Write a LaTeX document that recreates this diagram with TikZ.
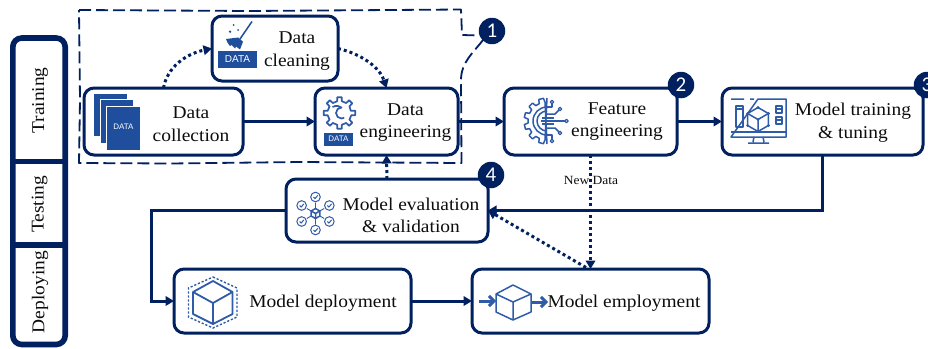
\documentclass[tikz,border=0pt]{standalone}
\usepackage{fontspec}
\setmainfont[FakeStretch=1.08]{Liberation Serif}
\newfontfamily\badgefont{Carlito}
\newfontfamily\datafont{Liberation Sans}
\usetikzlibrary{arrows.meta,calc}
\definecolor{navy}{HTML}{002060}
\definecolor{icob}{HTML}{2F5BA8}
\definecolor{datab}{HTML}{1F4E9C}
\definecolor{ink}{HTML}{0D0D0D}
\tikzset{
  box/.style={draw=navy,line width=3pt,rounded corners=10pt,fill=white,inner sep=0pt,outer sep=0pt,minimum width=#1},
  lbl/.style={align=center,text=ink,font=\fontsize{18}{22.5}\selectfont,inner sep=0pt},
  side/.style={rotate=90,text=ink,font=\fontsize{18}{22}\selectfont,inner sep=0pt},
  badge/.style={circle,fill=navy,text=white,minimum size=26.5pt,inner sep=0pt,font=\badgefont\fontsize{21}{21}\selectfont},
  flow/.style={draw=navy,line width=3pt,-{Triangle[length=8.5pt,width=9.5pt]}},
  dotflow/.style={draw=navy,line width=3pt,dash pattern=on 3pt off 3pt,-{Triangle[length=8.5pt,width=9.5pt]}},
  regionline/.style={navy,line width=1.8pt,dash pattern=on 12pt off 5pt,line join=round},
  ico/.style={draw=icob,line width=1.5pt,line join=round,fill=none},
  datatag/.style={fill=datab,text=white,inner sep=0pt,font=\datafont\fontsize{#1}{#1}\selectfont},
}
\newcommand{\hexcube}[3]{%
  \begin{scope}[shift={(#1,#2)}]
    \draw[ico] (90:#3)--(30:#3)--(-30:#3)--(-90:#3)--(-150:#3)--(150:#3)--cycle;
    \draw[ico] (0,0)--(-30:#3) (0,0)--(-150:#3) (0,0)--(90:#3);
  \end{scope}}
\begin{document}
\begin{tikzpicture}[x=1pt,y=-1pt]
\useasboundingbox (0,0) rectangle (928,348);
\clip (0,0) rectangle (928,348);
% dashed region
\draw[regionline] (79,10) -- (250,11) -- (461,9.5) -- (462,35) -- (479,35.5);
\draw[regionline] (483,40) .. controls (474,52) and (461,62) .. (461,80) -- (461.5,163) -- (300,162) -- (170,163.5) -- (79,163) -- (80,100) -- (79,10);
% phase panel
\draw[navy,line width=5.6pt,rounded corners=9pt] (12.8,38) rectangle (65.2,344.5);
\draw[navy,line width=5.6pt] (12.8,161.5) -- (65.2,161.5) (12.8,245) -- (65.2,245);
\node[side] (ptrain) at (40,100.5) {Training};
\node[side] (ptest) at (39.5,204.5) {Testing};
\node[side] (pdeploy) at (40,292) {Deploying};
% boxes
\node[box=159pt,minimum height=67pt] (coll) at (163.5,121.5) {};
\node[box=126pt,minimum height=65pt] (clean) at (275,48.5) {};
\node[box=143pt,minimum height=67pt] (eng) at (386.5,121.5) {};
\node[box=173pt,minimum height=67pt] (feat) at (590.5,121.5) {};
\node[box=201pt,minimum height=67pt] (train) at (822.5,121.5) {};
\node[box=202pt,minimum height=63pt] (eval) at (387,210.5) {};
\node[box=237pt,minimum height=64pt] (depl) at (292.5,301) {};
\node[box=237pt,minimum height=64pt] (empl) at (590.5,301) {};
% connectors
\draw[flow] (coll) -- (eng);
\draw[flow] (eng) -- (feat);
\draw[flow] (feat) -- (train);
\draw[flow] (depl) -- (empl);
\draw[flow] (train.south) |- (eval.east);
\coordinate (bend) at (151,210.5);
\draw[flow] (eval.west) -- (bend) |- (depl.west);
\draw[dotflow] (coll.north) .. controls (167,68) and (185,54) .. (clean.west);
\draw[dotflow] (clean.east) .. controls (362,54) and (380,68) .. (eng.north);
\draw[dotflow] (eval.north) -- (eng.south);
\draw[dotflow] (feat.south) -- (empl.north);
\coordinate (emplout) at (586,267.5);
\draw[dotflow] (emplout) -- (eval.east);
\node[text=ink,inner sep=0pt,font=\fontsize{12.5}{14}\selectfont] (newdata) at (591,180) {New Data};
% texts
\node[lbl] (tcoll) at (191,124) {Data\\collection};
\node[lbl] (tclean) at (297,51) {Data\\cleaning};
\node[lbl] (teng) at (405.5,122.5) {Data\\engineering};
\node[lbl] (tfeat) at (617,121.5) {Feature\\engineering};
\node[lbl] (ttrain) at (853,122.5) {Model training\\\& tuning};
\node[lbl] (teval) at (411,215.5) {Model evaluation\\\& validation};
\node[lbl] (tdepl) at (323,303.5) {Model deployment};
\node[lbl] (templ) at (624,303.5) {Model employment};
% badges
\node[badge] (b1) at (492,31) {1};
\node[badge] (b2) at (681,85) {2};
\node[badge] (b3) at (927,85) {3};
\node[badge] (b4) at (491,175) {4};
% icon: documents
\fill[datab,draw=white,line width=.8pt] (93,93) rectangle (127,136);
\fill[datab,draw=white,line width=.8pt] (100,99) rectangle (133.5,143);
\fill[datab,draw=white,line width=.8pt] (106.5,106.5) rectangle (140.5,150.5);
\node[text=white,inner sep=0pt,font=\datafont\fontsize{8}{8}\selectfont] (dcoll) at (123.5,127) {DATA};
% icon: cleaning
\node[datatag=10,minimum width=39pt,minimum height=17pt] (dclean) at (237.5,59.5) {DATA};
\draw[datab,line width=1.5pt] (252,21.5) -- (240,39);
\fill[datab] (226,39) -- (238.3,37.5) -- (243,41.7) -- (240,49.5) -- (236,46.5) -- (235,48.5) -- (231.5,45) -- (230,46) .. controls (228,44) and (227,42) .. cycle;
\fill[datab] (233.5,25) circle (1pt) (230,31.7) circle (1.3pt) (238,30) circle (1pt);
% icon: gear
\begin{scope}[shift={(339.5,113)}]
  \draw[ico,line width=1.7pt] (0-11:11.5) \foreach \a in {0,45,...,315}{ -- (\a-11:12) -- (\a-8:16) -- (\a+8:16) -- (\a+11:12) } -- cycle;
  \draw[ico,line width=1.7pt] (-7,-6) .. controls (-3,-8) and (0,-7) .. (2,-5.5) arc (-90:-300:5.5) ;
\end{scope}
\node[datatag=8,minimum width=29pt,minimum height=13pt] (deng) at (338.5,139) {DATA};
% icon: feature engineering
\begin{scope}[shift={(547,121)}]
  \draw[ico] (0,-23) \foreach \a in {105,135,165,195,225,255}{ -- (\a-9:19) -- (\a-6:23) -- (\a+6:23) -- (\a+9:19) } -- (0,23);
  \draw[ico] (0,-14) arc (-90:-270:14);
  \draw[ico] (0,-10) arc (-90:-270:10);
  \draw[ico] (0,-14) -- (5,-14) -- (5,-18);
  \draw[ico] (-2,-7) -- (8,-7) -- (13,-12);
  \draw[ico] (-5,-3) -- (7,-3) (-6,0) -- (19,0);
  \draw[ico] (-5,3) -- (7,3);
  \draw[ico] (-2,7) -- (8,7) -- (13,12);
  \draw[ico] (0,14) -- (5,14) -- (5,20);
  \draw[ico,fill=white,line width=1.2pt] (5,-19) circle (1.8pt) (13,-12) circle (1.8pt) (19.5,0) circle (1.8pt) (13,12) circle (1.8pt) (5,20) circle (1.8pt);
\end{scope}
% icon: monitor
\draw[ico] (731,99) -- (744,99) (750,99) -- (754,99) (758,99) -- (786,99) -- (786,137) -- (731,137) -- cycle;
\draw[ico] (731,132) -- (786,132);
\draw[ico] (754,137) -- (753,142) (763,137) -- (764,142) (748,143) -- (769,143);
\draw[ico] (736,106) rectangle (743,127);
\draw[ico] (776,106) rectangle (782,113) (776,117) rectangle (782,124);
\draw[ico] (736,109) -- (743,109) (776,109) -- (782,109) (776,120) -- (782,120);
\hexcube{758}{119.5}{12}
\fill[icob] (758,107.5) circle (1.6pt) (768.4,113.5) circle (1.6pt) (768.4,125.5) circle (1.6pt) (758,131.5) circle (1.6pt) (747.6,125.5) circle (1.6pt) (747.6,113.5) circle (1.6pt) (758,119.5) circle (1.4pt);
% icon: evaluation
\begin{scope}[shift={(315.5,213.5)}]
  \draw[ico,line width=.9pt] (90:5)--(90:11) (30:5)--(30:10) (-30:5)--(-30:10) (-90:5)--(-90:11) (-150:5)--(-150:10) (150:5)--(150:10);
  \foreach \a/\r in {90/16.5,30/16,-30/16,-90/16.5,-150/16,150/16}{
    \begin{scope}[shift={(\a:\r)}]
      \draw[ico,line width=1pt] (0,0) circle (4.8pt);
      \draw[ico,line width=1pt] (-2,0) -- (-.5,1.6) -- (2.2,-1.6);
    \end{scope}}
\end{scope}
\hexcube{315.5}{213.5}{5}
% icon: deployment
\draw[icob,line width=1.4pt,dash pattern=on 2.2pt off 1.8pt] (213,277)--(237,288)--(237,317)--(213,328)--(188.5,317)--(188.5,288)--cycle;
\draw[ico,line width=1.8pt] (213,281)--(232.5,292)--(232.5,314)--(213,324)--(193,314)--(193,292)--cycle;
\draw[ico,line width=1.8pt] (193,292)--(213,303)--(232.5,292) (213,303)--(213,324);
% icon: employment
\draw[ico] (513,285)--(531,294)--(531,312)--(513,320)--(496,312)--(496,294)--cycle;
\draw[ico] (496,294)--(513,302)--(531,294) (513,302)--(513,320);
\draw[icob,line width=3pt,-{Straight Barb[length=5pt,width=10pt]}] (479,301) -- (496,301);
\draw[icob,line width=3pt,-{Straight Barb[length=5pt,width=10pt]}] (531,302) -- (548,302);
\end{tikzpicture}
\end{document}
